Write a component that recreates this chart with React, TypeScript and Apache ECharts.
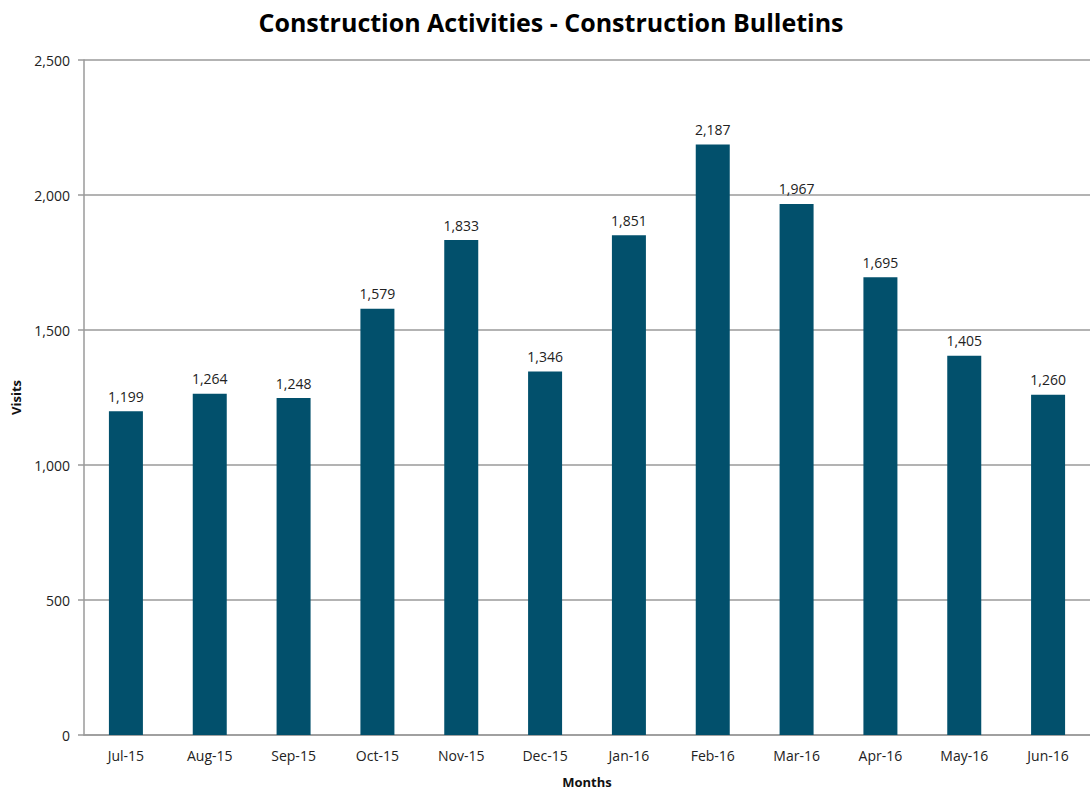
import React, { useEffect, useRef } from "react";
import * as echarts from "echarts";

const months = ["Jul-15","Aug-15","Sep-15","Oct-15","Nov-15","Dec-15","Jan-16","Feb-16","Mar-16","Apr-16","May-16","Jun-16"];
const visits = [1199,1264,1248,1579,1833,1346,1851,2187,1967,1695,1405,1260];
const yTicks = [0,500,1000,1500,2000,2500];

const FONT = "'Open Sans', 'Liberation Sans', sans-serif";

export default function App() {
  const ref = useRef<HTMLDivElement>(null);
  useEffect(() => {
    const chart = echarts.init(ref.current!, null, { renderer: "svg" });
    chart.setOption({
      animation: false,
      backgroundColor: "#fff",
      title: {
        text: "Construction Activities - Construction Bulletins",
        left: 546, top: 4, textAlign: "center",
        textStyle: { fontFamily: FONT, fontSize: 25, fontWeight: "bold", color: "#000" },
      },
      grid: { left: 84, right: -8, top: 60, bottom: 58, containLabel: false },
      xAxis: {
        type: "category", data: months,
        name: "Months", nameLocation: "middle", nameGap: 40,
        nameTextStyle: { fontFamily: FONT, fontSize: 13, fontWeight: "bold", color: "#111" },
        axisLine: { lineStyle: { color: "#9a9a9a", width: 1.5 } },
        axisTick: { show: false },
        axisLabel: { fontFamily: FONT, fontSize: 14, color: "#222", margin: 13 },
      },
      yAxis: {
        type: "value", min: yTicks[0], max: yTicks[yTicks.length - 1], interval: 500,
        name: "Visits", nameLocation: "middle", nameGap: 62, nameRotate: 90,
        nameTextStyle: { fontFamily: FONT, fontSize: 13, fontWeight: "bold", color: "#111" },
        axisLine: { show: true, lineStyle: { color: "#9a9a9a", width: 1.5 } },
        axisTick: { show: true, length: 6, lineStyle: { color: "#9a9a9a", width: 1.5 } },
        splitLine: { lineStyle: { color: "#9a9a9a", width: 1.5 } },
        axisLabel: {
          fontFamily: FONT, fontSize: 14, color: "#222", margin: 14,
          formatter: (v: number) => v.toLocaleString("en-US"),
        },
      },
      series: [{
        type: "bar", data: visits, barWidth: 34,
        itemStyle: { color: "#02506C" },
        label: {
          show: true, position: "top", distance: 8,
          fontFamily: FONT, fontSize: 14, color: "#222",
          formatter: (p: any) => Number(p.value).toLocaleString("en-US"),
        },
      }],
    });
    return () => chart.dispose();
  }, []);
  return <div ref={ref} style={{ position: "fixed", left: 0, top: 0, width: 1090, height: 793 }} />;
}
